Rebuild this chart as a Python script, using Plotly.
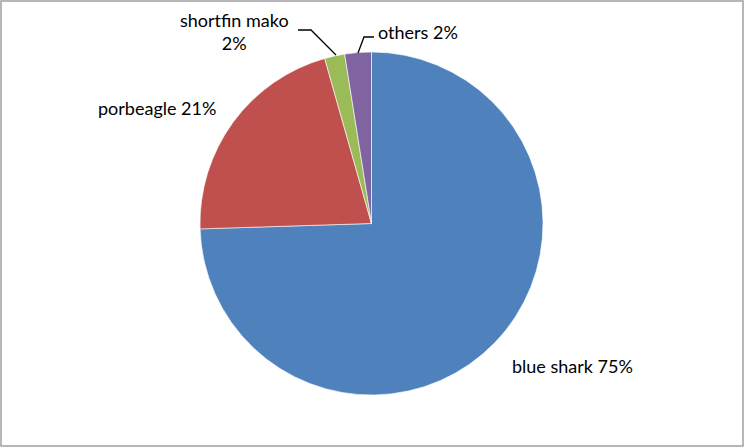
import plotly.graph_objects as go

W, H = 744, 447

species = ["blue shark", "porbeagle", "shortfin mako", "others"]
shares = [74.5, 21.1, 1.9, 2.5]
pct_labels = ["75%", "21%", "2%", "2%"]
colors = ["#4F81BD", "#C0504D", "#9BBB59", "#8064A2"]

def px(x):
    return x / W

def py(y):
    return 1 - y / H

fig = go.Figure(go.Pie(
    labels=species,
    values=shares,
    sort=False,
    direction="clockwise",
    rotation=0,
    textinfo="none",
    hoverinfo="label+percent",
    marker=dict(colors=colors, line=dict(color="white", width=0.6)),
    domain=dict(x=[px(200), px(543)], y=[py(395), py(52)]),
    showlegend=False,
))

font = dict(family="Lato, Open Sans, sans-serif", size=18, color="black")
label_pos = {
    "blue shark": (572, 366),
    "porbeagle": (157, 108),
    "shortfin mako": (234, 32),
    "others": (418, 32),
}
annotations = []
for name, pct in zip(species, pct_labels):
    x, y = label_pos[name]
    text = f"{name}<br>{pct}" if name == "shortfin mako" else f"{name} {pct}"
    annotations.append(dict(
        x=px(x), y=py(y), xref="paper", yref="paper",
        text=text, showarrow=False, xanchor="center", yanchor="middle",
        font=font, align="center",
    ))

shapes = [
    dict(type="rect", xref="paper", yref="paper", x0=px(1), x1=px(743), y0=py(446), y1=py(1),
         line=dict(color="#A0A0A0", width=1.5)),
    dict(type="path", xref="paper", yref="paper",
         path=f"M {px(336)} {py(55)} L {px(311)} {py(30)} L {px(298)} {py(30)}",
         line=dict(color="black", width=1.3)),
    dict(type="path", xref="paper", yref="paper",
         path=f"M {px(358)} {py(53)} L {px(364)} {py(37)} L {px(374)} {py(37)}",
         line=dict(color="black", width=1.3)),
]

fig.update_layout(
    width=W, height=H,
    margin=dict(l=0, r=0, t=0, b=0),
    paper_bgcolor="white",
    plot_bgcolor="white",
    annotations=annotations,
    shapes=shapes,
)

fig.write_html(
    "out.html",
    config={"displayModeBar": False},
    post_script="document.body.style.margin='0';document.body.style.overflow='hidden';",
)
